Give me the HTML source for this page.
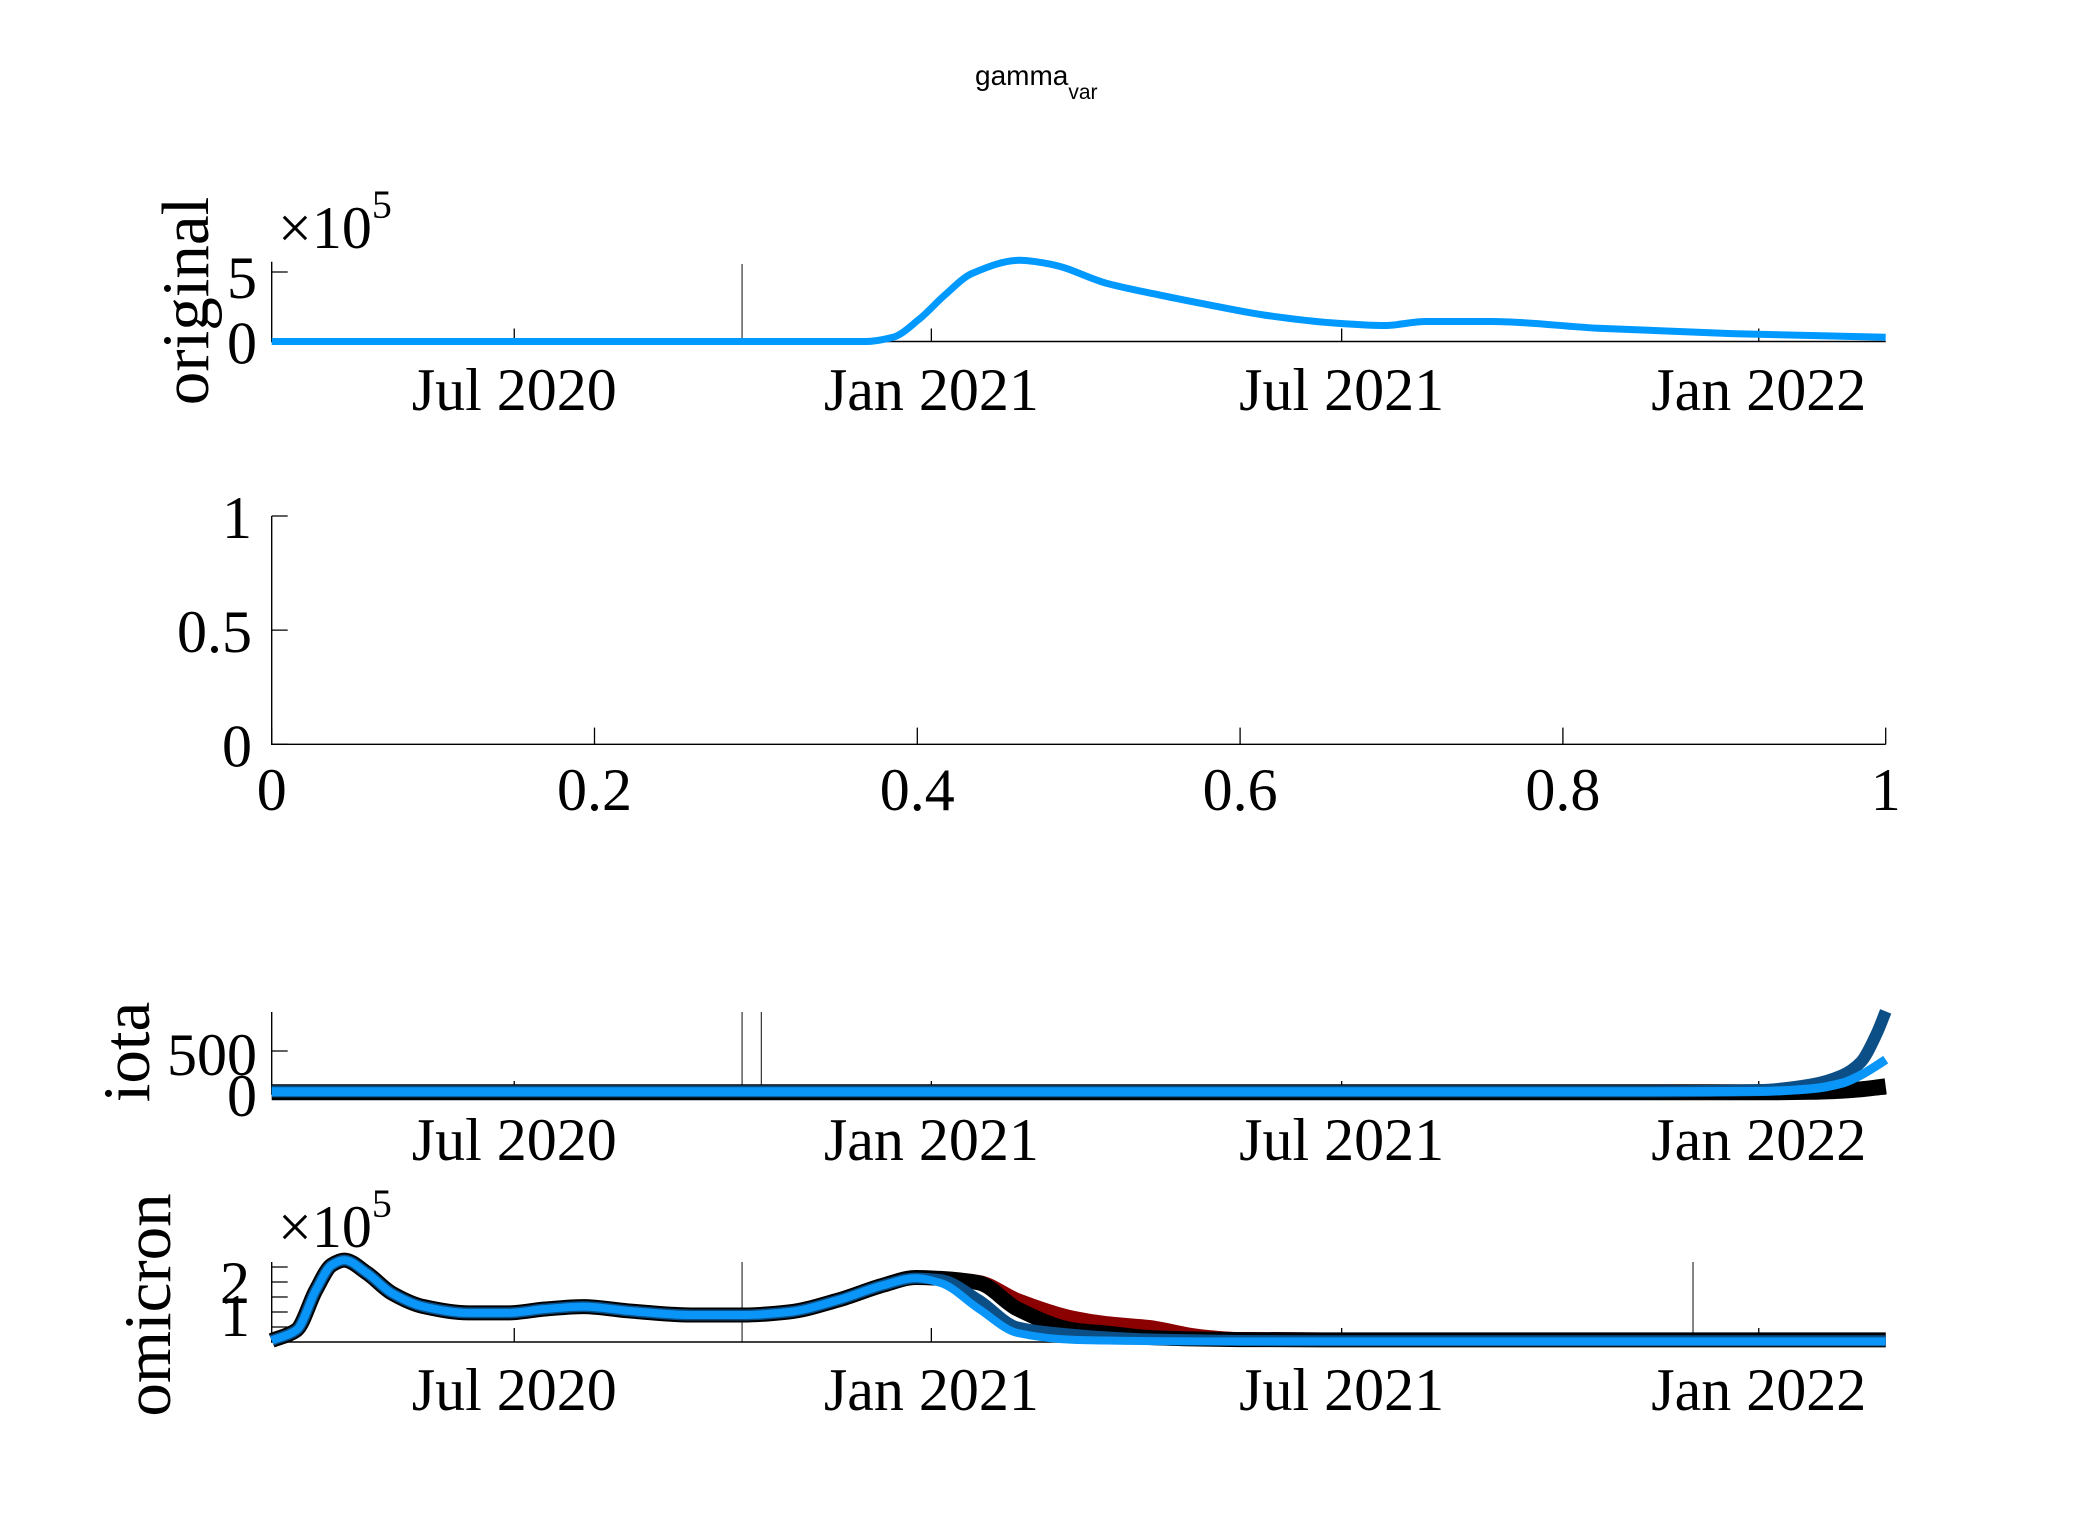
<!DOCTYPE html>
<html><head><meta charset="utf-8"><style>
html,body{margin:0;padding:0;background:#fff;}
svg{display:block;}
text{font-family:"Liberation Serif",serif;fill:#000;}
</style></head><body>
<svg id="fig" width="2083" height="1538" viewBox="0 0 2083 1538" xmlns="http://www.w3.org/2000/svg">
<rect width="2083" height="1538" fill="#fff"/>
<text x="975" y="85" style="font-family:'Liberation Sans',sans-serif;font-size:28px">gamma<tspan dy="14" font-size="21">var</tspan></text>
<g id="p1"></g>
<g id="p2"></g>
<g id="p3"></g>
<g id="p4"></g>
</svg>
<script>
// ---- data ----
const dateTickLabels = ["Jul 2020","Jan 2021","Jul 2021","Jan 2022"];
const dateTickDays = [107, 291, 472, 656];
const markerDaysP1 = [207.5];
const markerDaysP3 = [207.5, 216];
const markerDaysP4 = [207.5, 627];

const origDays = [0,262,274,285.6,297,309,330,344,368,391.5,409,438,468,491,509,538,585,644,712];
const origVals = [0,0,0.3,1.6,3.35,4.9,5.84,5.55,4.2,3.35,2.78,1.9,1.34,1.15,1.44,1.44,0.96,0.57,0.3];

const p2XTicks = [0,0.2,0.4,0.6,0.8,1];
const p2XTickLabels = ["0","0.2","0.4","0.6","0.8","1"];
const p2YTicks = [0,0.5,1];
const p2YTickLabels = ["0","0.5","1"];

const iotaDays = [0,600,656,679,693,701,708,712];
const iotaBlack = [20,20,20,25,40,55,75,90];
const iotaDark = [30,30,45,110,220,370,700,960];
const iotaLight = [25,25,30,60,128,220,330,400];

const omiDays = [0,11,19.5,26.5,32,42,53,67,87,104,120.6,137.6,157,185,208,228,250,270,284,295,312,329,354,368,387,409,427,498,712];
const omiLight = [0.05,0.4,1.73,2.57,2.73,2.3,1.63,1.18,0.97,0.97,1.1,1.18,1.04,0.9,0.9,1.0,1.4,1.9,2.13,1.97,1.1,0.3,0.07,0.05,0.03,0.02,0.02,0.02,0.02];
const omiDark  = [0.05,0.4,1.73,2.57,2.73,2.3,1.63,1.18,0.97,0.97,1.1,1.18,1.04,0.9,0.9,1.0,1.4,1.9,2.13,2.08,1.4,0.5,0.25,0.17,0.1,0.07,0.05,0.04,0.04];
const omiBlack = [0.05,0.4,1.73,2.57,2.73,2.3,1.63,1.18,0.97,0.97,1.1,1.18,1.04,0.9,0.9,1.0,1.4,1.9,2.15,2.12,1.97,1.1,0.4,0.3,0.15,0.1,0.08,0.07,0.07];
const omiRed   = [0.05,0.4,1.73,2.57,2.73,2.3,1.63,1.18,0.97,0.97,1.1,1.18,1.04,0.9,0.9,1.0,1.4,1.9,2.15,2.12,2.0,1.4,0.8,0.63,0.5,0.2,0.1,0.08,0.08];

// ---- helpers ----
const NS="http://www.w3.org/2000/svg";
const L=271.7, R=1885.7, PXD=(R-L)/712;
function xDate(d){return L+d*PXD;}
function mk(parent,tag,attrs){const e=document.createElementNS(NS,tag);for(const k in attrs)e.setAttribute(k,attrs[k]);parent.appendChild(e);return e;}
// monotone cubic (Fritsch-Carlson) – no overshoot
function smooth(pts){
 const n=pts.length, dx=[], m=[], t=new Array(n);
 for(let i=0;i<n-1;i++){dx.push(pts[i+1][0]-pts[i][0]);m.push((pts[i+1][1]-pts[i][1])/dx[i]);}
 t[0]=m[0]; t[n-1]=m[n-2];
 for(let i=1;i<n-1;i++){ if(m[i-1]*m[i]<=0) t[i]=0; else { const w1=2*dx[i]+dx[i-1], w2=dx[i]+2*dx[i-1]; t[i]=(w1+w2)/(w1/m[i-1]+w2/m[i]); } }
 let d="M"+pts[0][0].toFixed(1)+","+pts[0][1].toFixed(1);
 for(let i=0;i<n-1;i++){const h=dx[i]/3;
  d+="C"+(pts[i][0]+h).toFixed(1)+","+(pts[i][1]+t[i]*h).toFixed(1)+" "+(pts[i+1][0]-h).toFixed(1)+","+(pts[i+1][1]-t[i+1]*h).toFixed(1)+" "+pts[i+1][0].toFixed(1)+","+pts[i+1][1].toFixed(1);}
 return d;}
function line(g,days,vals,ys,color,w,name){
 const pts=days.map((d,i)=>[xDate(d),ys(vals[i])]);
 const p=mk(g,"path",{d:smooth(pts),fill:"none",stroke:color,"stroke-width":w,"stroke-linejoin":"round"});
 
 
 return p;}
function axes(g,top,bottom,name){
 const a=mk(g,"path",{d:`M${L},${top}V${bottom}H${R}`,fill:"none",stroke:"#000","stroke-width":1.4});
 
 }
function dateTicks(g,bottom,base,tl){
 dateTickDays.forEach((d,i)=>{const x=xDate(d);
  const t=mk(g,"line",{x1:x,x2:x,y1:bottom,y2:bottom-tl,stroke:"#000","stroke-width":1.3});
  
  
  const lb=mk(g,"text",{x:x,y:base,"text-anchor":"middle","font-size":60});
  lb.textContent=dateTickLabels[i];
  
  });}
function markers(g,days,top,bottom){
 days.forEach(d=>{const x=xDate(d);
  const m=mk(g,"line",{x1:x,x2:x,y1:top,y2:bottom,stroke:"#333","stroke-width":1.2});
  
  });}
function yLab(g,txt,x,y,name,fs){
 const t=mk(g,"text",{x:x,y:y,"text-anchor":"end","dominant-baseline":"central","font-size":fs||60});
 t.textContent=txt;
 
 }
function yTick(g,y){const t=mk(g,"line",{x1:L,x2:L+16,y1:y,y2:y,stroke:"#000","stroke-width":1.3});
 
 }
function rotLabel(g,txt,x,y,name){
 const t=mk(g,"text",{x:0,y:0,"text-anchor":"middle","font-size":67,transform:`translate(${x},${y}) rotate(-90)`});
 t.textContent=txt;
 
 }
function expo(g,y){
 const t=mk(g,"text",{x:278,y:y,"font-size":60});
 t.innerHTML='×10<tspan dy="-30" font-size="40">5</tspan>';
 
 }

// ---- panel 1: original ----
(function(){const g=document.getElementById('p1');const B=341.5,T=261.7,S=13.9;
 const ys=v=>B-v*S;
 markers(g,markerDaysP1,264,B);
 axes(g,T,B,'original-axes');
 dateTicks(g,B,410,13);
 yTick(g,ys(5));
 yLab(g,"5",257,ys(5)+6,'y-tick-label');
 yLab(g,"0",257,B+2,'y-tick-label');
 expo(g,248);
 rotLabel(g,"original",208,301,'y-axis-title');
 line(g,origDays,origVals,ys,"#0099ff",7,'original-series');})();

// ---- panel 2: empty ----
(function(){const g=document.getElementById('p2');const B=744.3,T=516;
 const ys=v=>B-v*(B-T), xs=v=>L+v*(R-L);
 axes(g,T,B,'empty-axes');
 p2XTicks.forEach((v,i)=>{const x=xs(v);
  const t=mk(g,"line",{x1:x,x2:x,y1:B,y2:B-16.7,stroke:"#000","stroke-width":1.3});
  
  
  const lb=mk(g,"text",{x:x,y:810,"text-anchor":"middle","font-size":60});
  lb.textContent=p2XTickLabels[i];
  
  });
 p2YTicks.forEach((v,i)=>{yTick(g,ys(v));yLab(g,p2YTickLabels[i],252,ys(v)+2,'y-tick-label');});})();

// ---- panel 3: iota ----
(function(){const g=document.getElementById('p3');const B=1094,T=1012,S=0.086;
 const ys=v=>B-v*S;
 markers(g,markerDaysP3,T,B);
 axes(g,T,B,'iota-axes');
 dateTicks(g,B,1160,13);
 yTick(g,ys(500));
 yLab(g,"500",257,ys(500)+4,'y-tick-label');
 yLab(g,"0",257,B+2,'y-tick-label');
 rotLabel(g,"iota",149,1052,'y-axis-title');
 line(g,iotaDays,iotaBlack,ys,"#000",16,'iota-series-black');
 line(g,iotaDays,iotaDark,ys,"#0b4f86",12,'iota-series-darkblue');
 line(g,iotaDays,iotaLight,ys,"#0a96f8",9,'iota-series-lightblue');})();

// ---- panel 4: omicron ----
(function(){const g=document.getElementById('p4');const B=1342,T=1262,S=30;
 const ys=v=>B-v*S;
 markers(g,markerDaysP4,T,B);
 axes(g,T,B,'omicron-axes');
 dateTicks(g,B,1410,14);
 [0.5,1,1.5,2,2.5].forEach(v=>yTick(g,ys(v)));
 yLab(g,"2",250,1283,'y-tick-label');
 yLab(g,"1",250,1316,'y-tick-label');
 expo(g,1247);
 rotLabel(g,"omicron",170,1305,'y-axis-title');
 line(g,omiDays,omiRed,ys,"#8b0000",14,'omicron-series-red');
 line(g,omiDays,omiBlack,ys,"#000",15,'omicron-series-black');
 line(g,omiDays,omiDark,ys,"#0b4f86",11,'omicron-series-darkblue');
 line(g,omiDays,omiLight,ys,"#0a96f8",8,'omicron-series-lightblue');})();
</script>
</body></html>
